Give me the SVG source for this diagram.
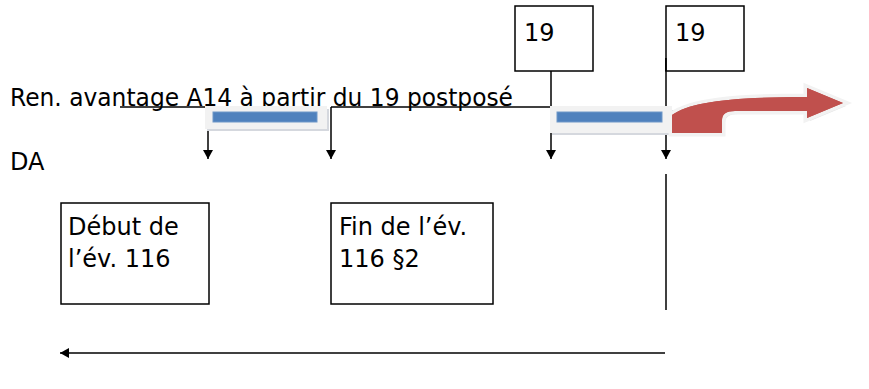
<svg xmlns="http://www.w3.org/2000/svg" width="869" height="389" viewBox="0 0 869 389">
<style>
text{font-family:"DejaVu Sans","Liberation Sans",sans-serif;font-size:24px;fill:#000}
.box{fill:#fff;stroke:#000;stroke-width:1.5}
.ln{stroke:#000;stroke-width:1.5;fill:none}
.bar-outer{fill:#f2f2f2}
.bar-shadow{fill:#d5d8de}
.bar{fill:#4f81bd;stroke:#6f97c8;stroke-width:1}
</style>
<defs>
<marker id="ah" markerWidth="10" markerHeight="10" refX="9" refY="5" orient="auto" markerUnits="userSpaceOnUse" viewBox="0 0 10 10">
<path d="M0,0 L9,5 L0,10 Z" fill="#000"/>
</marker>
</defs>

<text id="label-ren" x="10" y="106" textLength="503" lengthAdjust="spacingAndGlyphs">Ren. avantage A14 à partir du 19 postposé</text>
<text id="label-da" x="10" y="170">DA</text>

<g id="connectors">
<line class="ln" x1="120" y1="107" x2="208" y2="107"/>
<line class="ln" x1="331" y1="107" x2="550" y2="107"/>
<line class="ln" x1="208" y1="125" x2="208" y2="159" marker-end="url(#ah)"/>
<line class="ln" x1="331" y1="107" x2="331" y2="159" marker-end="url(#ah)"/>
<line class="ln" x1="551" y1="71" x2="551" y2="159" marker-end="url(#ah)"/>
<line class="ln" x1="666" y1="58" x2="666" y2="159" marker-end="url(#ah)"/>
<line class="ln" x1="666" y1="174" x2="666" y2="310"/>
<line class="ln" x1="665" y1="353" x2="60" y2="353" marker-end="url(#ah)"/>
</g>

<g id="bar1">
<rect class="bar-shadow" x="207" y="109" width="122" height="22"/>
<rect class="bar-outer" x="205" y="106" width="122" height="23"/>
<rect class="bar" x="213" y="112" width="104" height="10"/>
</g>

<g id="bar2">
<rect class="bar-shadow" x="552" y="110" width="122" height="25"/>
<rect class="bar-outer" x="550" y="106" width="122" height="27"/>
<rect class="bar" x="557" y="112" width="105" height="10"/>
</g>

<g id="red-arrow">
<path d="M675,136 L675,118 C693,105 733,100 810,100 L810,91 L846,106 L810,121 L810,114 L738,114 Q725,114 725,123 L725,136 Z" fill="#d9d9d9" opacity="0.7"/>
<path d="M672,133 L672,115 C690,102 730,97 807,97 L807,88 L843,103 L807,118 L807,111 L735,111 Q722,111 722,120 L722,133 Z" fill="#c0504d" stroke="#f2f2f2" stroke-width="7" stroke-linejoin="miter" paint-order="stroke"/>
<path d="M672,133 L672,115 C690,102 730,97 807,97 L807,88 L843,103 L807,118 L807,111 L735,111 Q722,111 722,120 L722,133 Z" fill="#c0504d"/>
</g>

<g id="node-19a">
<rect class="box" x="515" y="6" width="78" height="65"/>
<text x="524" y="41">19</text>
</g>
<g id="node-19b">
<rect class="box" x="666" y="6" width="78" height="65"/>
<text x="675" y="41">19</text>
</g>
<line class="ln" x1="666" y1="58" x2="666" y2="71"/>

<g id="node-debut">
<rect class="box" x="61" y="203" width="148" height="101"/>
<text x="68" y="235">Début de</text>
<text x="68" y="267">l’év. 116</text>
</g>
<g id="node-fin">
<rect class="box" x="331" y="203" width="162" height="101"/>
<text x="339" y="235">Fin de l’év.</text>
<text x="339" y="267">116 §2</text>
</g>
</svg>
